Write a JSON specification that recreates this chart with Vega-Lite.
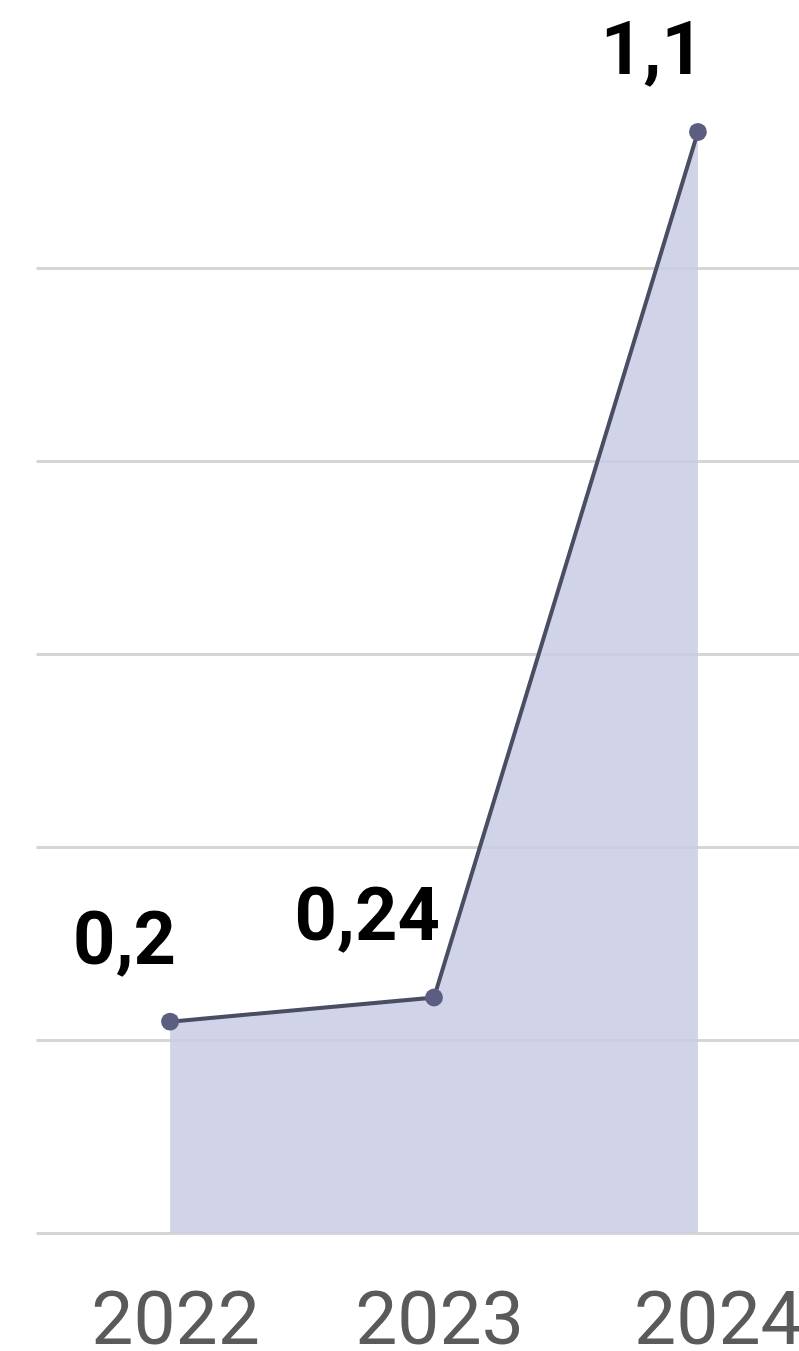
{
  "$schema": "https://vega.github.io/schema/vega-lite/v6.json",
  "width": 763,
  "height": 1158,
  "autosize": {"type": "none"},
  "padding": {"left": 36, "top": 75, "right": 0, "bottom": 118},
  "background": "white",
  "config": {"view": {"stroke": null}},
  "data": {
    "values": [
      {"year": 2022, "value": 0.219, "label": "0,2"},
      {"year": 2023, "value": 0.244, "label": "0,24"},
      {"year": 2024, "value": 1.141, "label": "1,1"}
    ]
  },
  "encoding": {
    "x": {
      "field": "year",
      "type": "quantitative",
      "scale": {"domain": [2021.492, 2024.383], "nice": false, "zero": false},
      "axis": {
        "title": null,
        "values": [2022, 2023, 2024],
        "format": "d",
        "grid": false,
        "domain": false,
        "ticks": false,
        "tickSize": 0,
        "labelFont": "Roboto",
        "labelFontSize": 75,
        "labelColor": "#5a5a5a",
        "labelBaseline": "alphabetic",
        "labelPadding": 110,
        "labelOffset": {"condition": {"test": "datum.value === 2024", "value": 20}, "value": 5}
      }
    },
    "y": {
      "field": "value",
      "type": "quantitative",
      "scale": {"domain": [0, 1.2], "nice": false},
      "axis": {
        "title": null,
        "labels": false,
        "ticks": false,
        "domain": false,
        "values": [0, 0.2, 0.4, 0.6, 0.8, 1.0],
        "gridColor": "#d6d6d6",
        "gridWidth": 3
      }
    }
  },
  "layer": [
    {"mark": {"type": "area", "color": "#c9cce4", "opacity": 0.85}},
    {"mark": {"type": "line", "color": "#4a4e63", "strokeWidth": 4}},
    {"mark": {"type": "point", "filled": true, "color": "#5b5e80", "opacity": 1, "size": 320}},
    {
      "mark": {"type": "text", "font": "Roboto", "fontWeight": "bold", "fontSize": 74, "color": "#000000", "align": "right", "baseline": "alphabetic", "dx": 6, "dy": -58},
      "encoding": {"text": {"field": "label"}}
    }
  ]
}
